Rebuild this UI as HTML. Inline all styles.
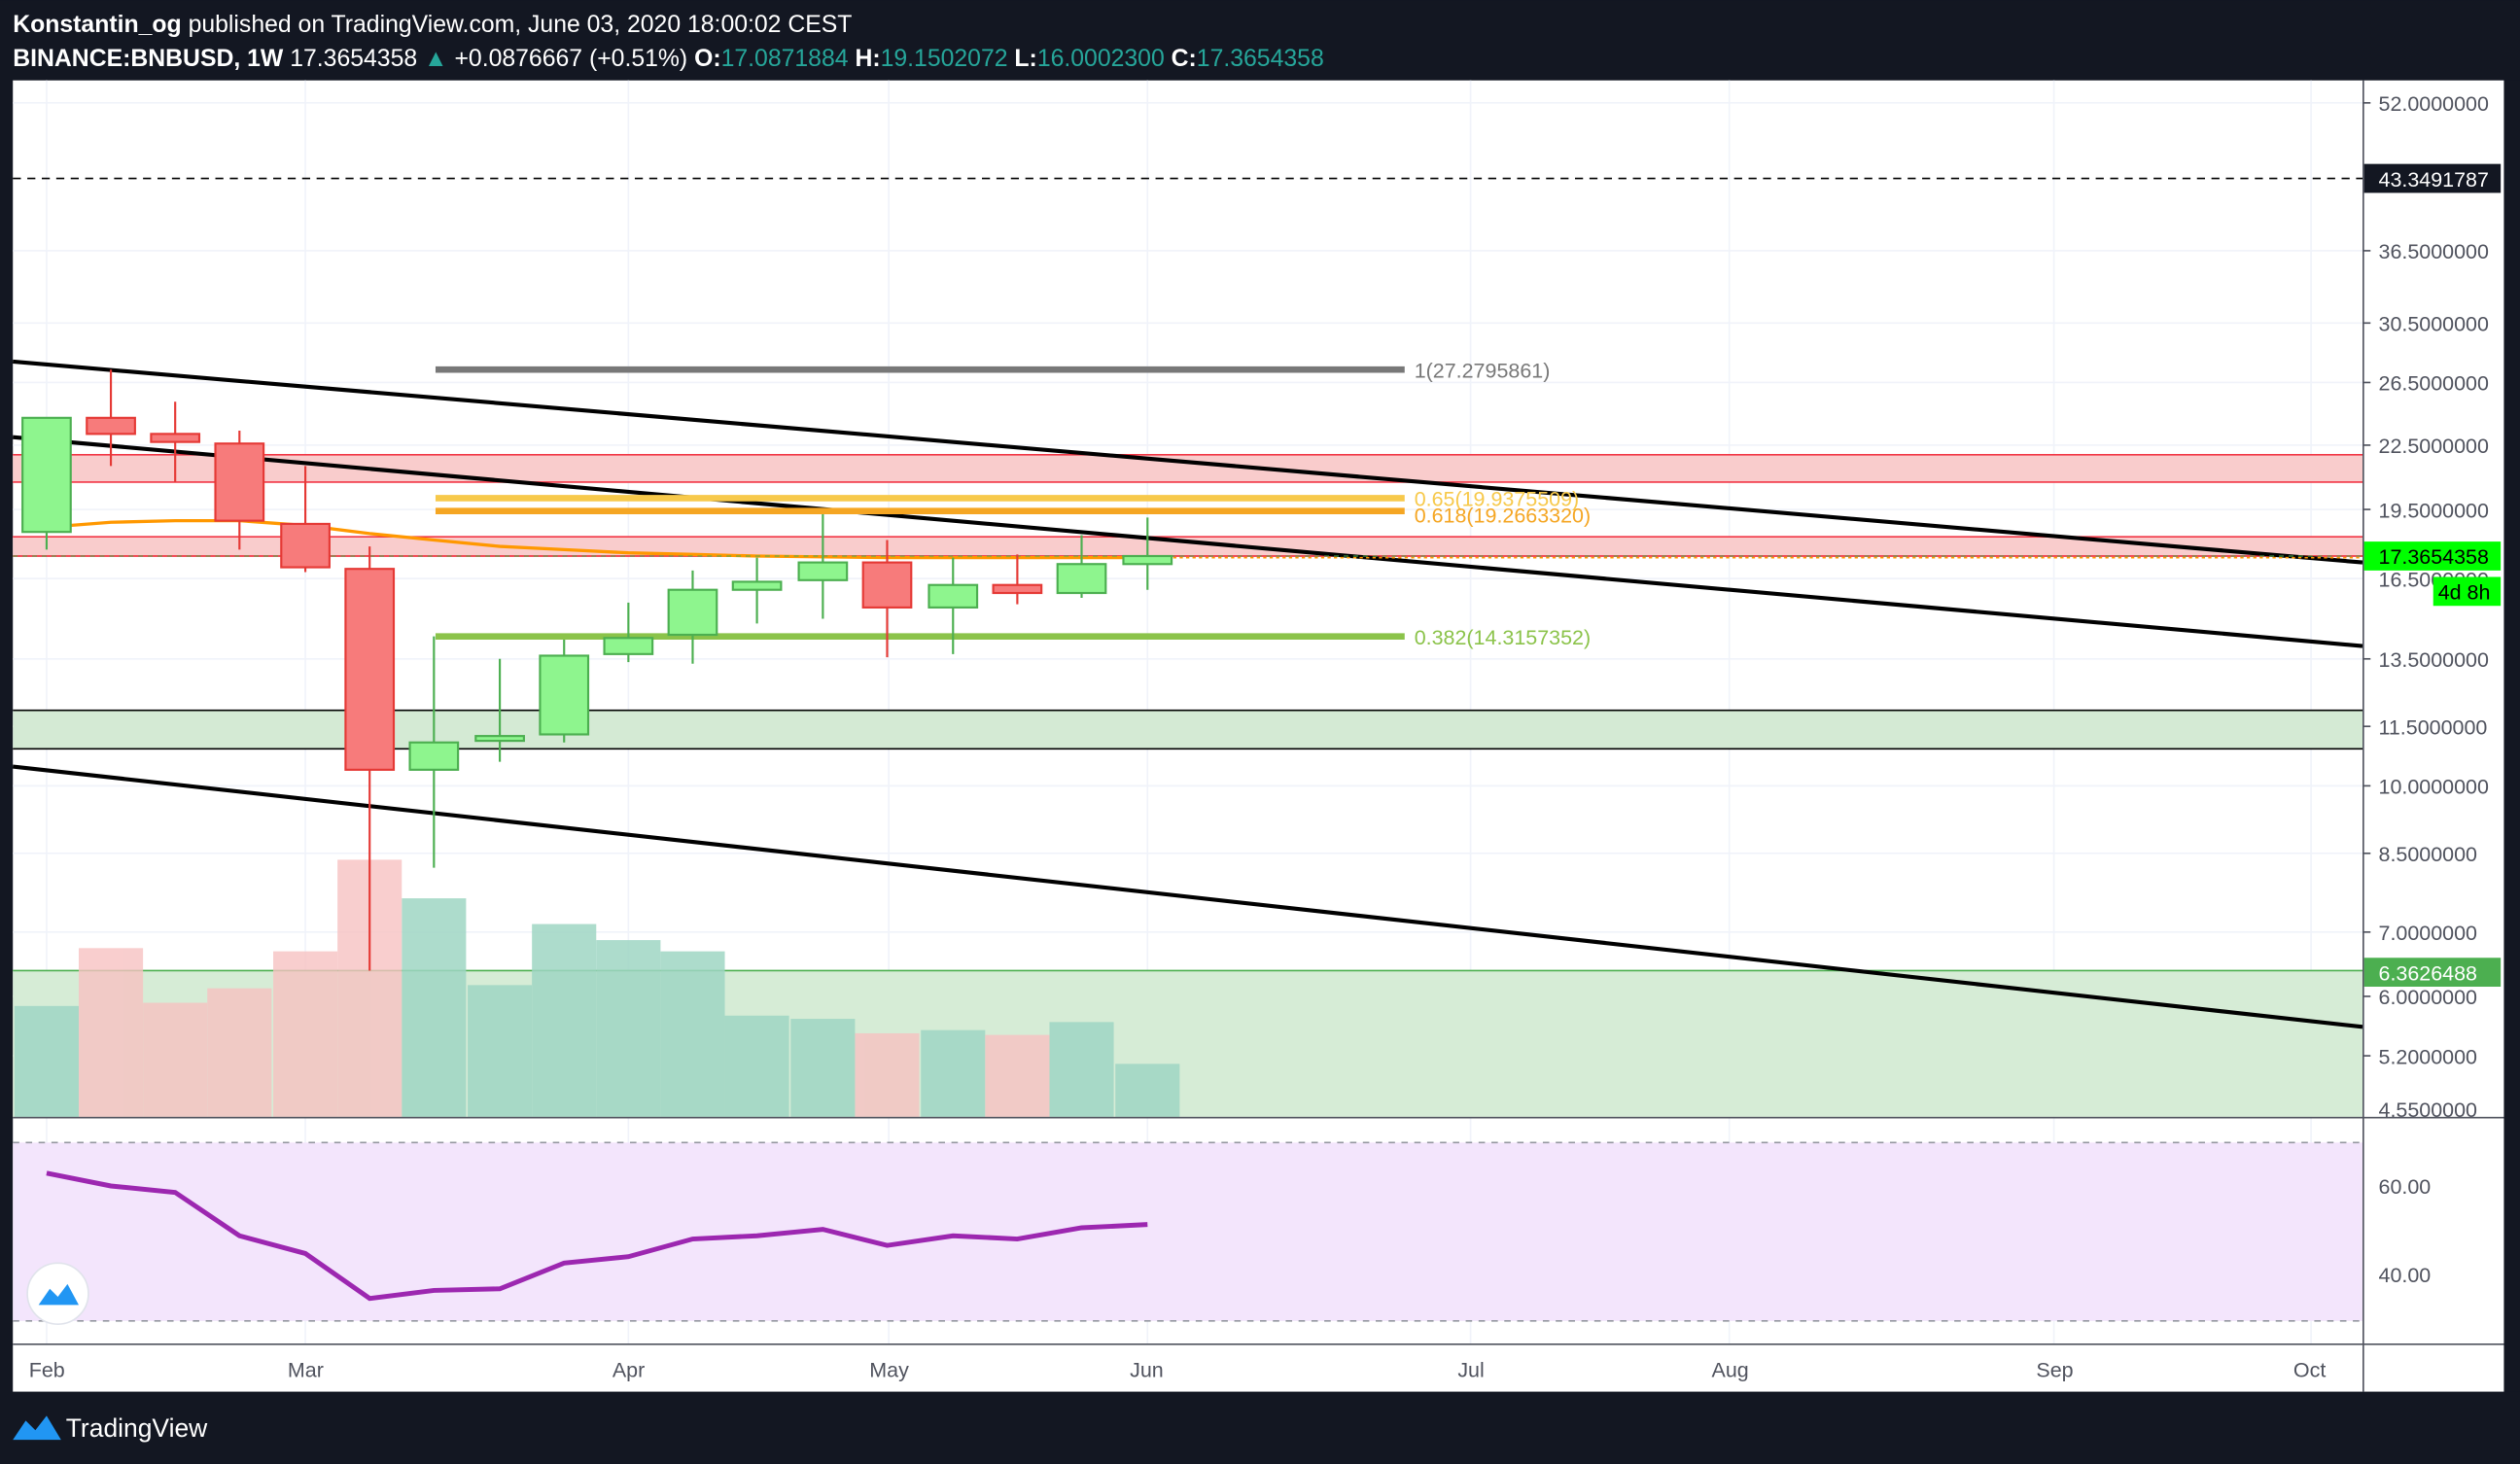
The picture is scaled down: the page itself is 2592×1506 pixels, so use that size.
<!DOCTYPE html>
<html><head><meta charset="utf-8"><style>
html,body{margin:0;padding:0;background:#131722;}
svg{display:block;}
text{font-family:"Liberation Sans",sans-serif;}
</style></head><body>
<svg width="2592" height="1506" viewBox="0 0 1568 911" xmlns="http://www.w3.org/2000/svg">
<rect x="0" y="0" width="1568" height="911" fill="#131722"/>
<!-- header -->
<text x="8" y="20" font-size="15" fill="#fff"><tspan font-weight="bold">Konstantin_og</tspan> published on TradingView.com, June 03, 2020 18:00:02 CEST</text>
<text x="8" y="41" font-size="15" fill="#fff"><tspan font-weight="bold">BINANCE:BNBUSD, 1W</tspan> 17.3654358 <tspan fill="#26a69a">▲</tspan> +0.0876667 (+0.51%) <tspan font-weight="bold">O:</tspan><tspan fill="#26a69a">17.0871884</tspan> <tspan font-weight="bold">H:</tspan><tspan fill="#26a69a">19.1502072</tspan> <tspan font-weight="bold">L:</tspan><tspan fill="#26a69a">16.0002300</tspan> <tspan font-weight="bold">C:</tspan><tspan fill="#26a69a">17.3654358</tspan></text>
<!-- chart background -->
<rect x="8" y="50" width="1550" height="816" fill="#fff"/>
<!-- grid -->
<g stroke="#f0f3fa" stroke-width="1">
<line x1="29" y1="50" x2="29" y2="836"/><line x1="190" y1="50" x2="190" y2="836"/><line x1="391" y1="50" x2="391" y2="836"/><line x1="553" y1="50" x2="553" y2="836"/><line x1="714" y1="50" x2="714" y2="836"/><line x1="915" y1="50" x2="915" y2="836"/><line x1="1076" y1="50" x2="1076" y2="836"/><line x1="1278" y1="50" x2="1278" y2="836"/><line x1="1438" y1="50" x2="1438" y2="836"/>
<line x1="8" y1="64" x2="1470" y2="64"/><line x1="8" y1="156" x2="1470" y2="156"/><line x1="8" y1="201" x2="1470" y2="201"/><line x1="8" y1="238" x2="1470" y2="238"/><line x1="8" y1="277" x2="1470" y2="277"/><line x1="8" y1="317" x2="1470" y2="317"/><line x1="8" y1="360" x2="1470" y2="360"/><line x1="8" y1="410" x2="1470" y2="410"/><line x1="8" y1="452" x2="1470" y2="452"/><line x1="8" y1="489" x2="1470" y2="489"/><line x1="8" y1="531" x2="1470" y2="531"/><line x1="8" y1="580" x2="1470" y2="580"/><line x1="8" y1="620" x2="1470" y2="620"/><line x1="8" y1="657" x2="1470" y2="657"/>
</g>
<!-- zones -->
<rect x="8" y="283" width="1462" height="17" fill="#f9cccc"/>
<line x1="8" y1="283" x2="1470" y2="283" stroke="#f23645" stroke-width="1"/><line x1="8" y1="300" x2="1470" y2="300" stroke="#f23645" stroke-width="1"/>
<rect x="8" y="334" width="1462" height="12" fill="#f9cccc"/>
<line x1="8" y1="334" x2="1470" y2="334" stroke="#f23645" stroke-width="1"/><line x1="8" y1="346" x2="1470" y2="346" stroke="#f23645" stroke-width="1"/>
<rect x="8" y="442" width="1462" height="24" fill="#d4ead4"/>
<line x1="8" y1="442" x2="1470" y2="442" stroke="#000" stroke-width="1"/><line x1="8" y1="466" x2="1470" y2="466" stroke="#000" stroke-width="1"/>
<rect x="8" y="604" width="1462" height="91" fill="#d6ecd6"/>
<line x1="8" y1="604" x2="1470" y2="604" stroke="#4caf50" stroke-width="1"/>
<line x1="8" y1="111" x2="1470" y2="111" stroke="#000" stroke-width="1" stroke-dasharray="5,4"/>
<!-- volume -->
<g fill="#9fd6c4" opacity="0.85">
<rect x="9" y="626" width="40" height="69"/><rect x="250" y="559" width="40" height="136"/><rect x="291" y="613" width="40" height="82"/><rect x="331" y="575" width="40" height="120"/><rect x="371" y="585" width="40" height="110"/><rect x="411" y="592" width="40" height="103"/><rect x="451" y="632" width="40" height="63"/><rect x="492" y="634" width="40" height="61"/><rect x="573" y="641" width="40" height="54"/><rect x="653" y="636" width="40" height="59"/><rect x="694" y="662" width="40" height="33"/>
</g>
<g fill="#f7c2c2" opacity="0.8">
<rect x="49" y="590" width="40" height="105"/><rect x="89" y="624" width="40" height="71"/><rect x="129" y="615" width="40" height="80"/><rect x="170" y="592" width="40" height="103"/><rect x="210" y="535" width="40" height="160"/><rect x="532" y="643" width="40" height="52"/><rect x="613" y="644" width="40" height="51"/>
</g>
<!-- trend lines -->
<g stroke="#000" stroke-width="2.5">
<line x1="8" y1="225" x2="1470" y2="350"/><line x1="8" y1="272" x2="1470" y2="402"/><line x1="8" y1="477" x2="1470" y2="639"/>
</g>
<!-- MA -->
<polyline fill="none" stroke="#ff9800" stroke-width="2" points="30,328 69,325 109,324 149,324 190,327 230,332 270,336 311,340 351,342 391,344 431,345 471,346 552,347 714,347"/>
<line x1="714" y1="347" x2="1470" y2="347" stroke="#ff9800" stroke-width="1" stroke-dasharray="2,2"/>
<line x1="8" y1="346" x2="1470" y2="346" stroke="#4caf50" stroke-width="1" stroke-dasharray="3,3" opacity="0.6"/>
<!-- fib -->
<line x1="271" y1="230" x2="874" y2="230" stroke="#787878" stroke-width="4"/>
<text x="880" y="235" font-size="13" fill="#787878">1(27.2795861)</text>
<line x1="271" y1="310" x2="874" y2="310" stroke="#f7c94b" stroke-width="4"/>
<text x="880" y="315" font-size="13" fill="#f7c94b">0.65(19.9375509)</text>
<line x1="271" y1="318" x2="874" y2="318" stroke="#f5a623" stroke-width="4"/>
<text x="880" y="325" font-size="13" fill="#f5a623">0.618(19.2663320)</text>
<line x1="271" y1="396" x2="874" y2="396" stroke="#8bc34a" stroke-width="4"/>
<text x="880" y="401" font-size="13" fill="#8bc34a">0.382(14.3157352)</text>
<!-- candles -->
<g stroke-width="1.3">
<g stroke="#4caf50" fill="#8ef58e">
<line x1="29" y1="260" x2="29" y2="342"/><rect x="14" y="260" width="30" height="71"/>
<line x1="270" y1="396" x2="270" y2="540"/><rect x="255" y="462" width="30" height="17"/>
<line x1="311" y1="410" x2="311" y2="474"/><rect x="296" y="458" width="30" height="3"/>
<line x1="351" y1="398" x2="351" y2="462"/><rect x="336" y="408" width="30" height="49"/>
<line x1="391" y1="375" x2="391" y2="412"/><rect x="376" y="397" width="30" height="10"/>
<line x1="431" y1="355" x2="431" y2="413"/><rect x="416" y="367" width="30" height="28"/>
<line x1="471" y1="347" x2="471" y2="388"/><rect x="456" y="362" width="30" height="5"/>
<line x1="512" y1="320" x2="512" y2="385"/><rect x="497" y="350" width="30" height="11"/>
<line x1="593" y1="347" x2="593" y2="407"/><rect x="578" y="364" width="30" height="14"/>
<line x1="673" y1="333" x2="673" y2="372"/><rect x="658" y="351" width="30" height="18"/>
<line x1="714" y1="322" x2="714" y2="367"/><rect x="699" y="346" width="30" height="5"/>
</g>
<g stroke="#e53935" fill="#f77b7b">
<line x1="69" y1="230" x2="69" y2="290"/><rect x="54" y="260" width="30" height="10"/>
<line x1="109" y1="250" x2="109" y2="300"/><rect x="94" y="270" width="30" height="5"/>
<line x1="149" y1="268" x2="149" y2="342"/><rect x="134" y="276" width="30" height="48"/>
<line x1="190" y1="290" x2="190" y2="356"/><rect x="175" y="326" width="30" height="27"/>
<line x1="230" y1="340" x2="230" y2="604"/><rect x="215" y="354" width="30" height="125"/>
<line x1="552" y1="336" x2="552" y2="409"/><rect x="537" y="350" width="30" height="28"/>
<line x1="633" y1="345" x2="633" y2="376"/><rect x="618" y="364" width="30" height="5"/>
</g>
</g>
<!-- pane separator -->
<line x1="8" y1="695.5" x2="1558" y2="695.5" stroke="#50535e" stroke-width="1"/>
<!-- RSI -->
<rect x="8" y="711" width="1462" height="111" fill="#f3e5fc"/>
<line x1="8" y1="711" x2="1470" y2="711" stroke="#9598a1" stroke-dasharray="4,4"/>
<line x1="8" y1="822" x2="1470" y2="822" stroke="#9598a1" stroke-dasharray="4,4"/>
<polyline fill="none" stroke="#9c27b0" stroke-width="3" points="29,730 69,738 109,742 149,769 190,780 230,808 270,803 311,802 351,786 391,782 431,771 471,769 512,765 552,775 593,769 633,771 673,764 714,762"/>
<circle cx="36" cy="805" r="19" fill="#fff" stroke="#e0e3eb"/>
<path d="M24,812 L31,802 L36,807 L42,799 L49,812 Z" fill="#2196f3"/>
<!-- axes -->
<line x1="1470.5" y1="50" x2="1470.5" y2="866" stroke="#50535e" stroke-width="1"/>
<line x1="8" y1="836.5" x2="1558" y2="836.5" stroke="#50535e" stroke-width="1"/>
<g font-size="13" fill="#50535e">
<text x="1480" y="69">52.0000000</text><text x="1480" y="161">36.5000000</text><text x="1480" y="206">30.5000000</text><text x="1480" y="243">26.5000000</text><text x="1480" y="282">22.5000000</text><text x="1480" y="322">19.5000000</text><text x="1480" y="365">16.5000000</text><text x="1480" y="415">13.5000000</text><text x="1480" y="457">11.5000000</text><text x="1480" y="494">10.0000000</text><text x="1480" y="536">8.5000000</text><text x="1480" y="585">7.0000000</text><text x="1480" y="625">6.0000000</text><text x="1480" y="662">5.2000000</text><text x="1480" y="695">4.5500000</text>
<text x="1480" y="743">60.00</text><text x="1480" y="798">40.00</text>
<text x="18" y="857">Feb</text><text x="179" y="857">Mar</text><text x="381" y="857">Apr</text><text x="541" y="857">May</text><text x="703" y="857">Jun</text><text x="907" y="857">Jul</text><text x="1065" y="857">Aug</text><text x="1267" y="857">Sep</text><text x="1427" y="857">Oct</text>
</g>
<g stroke="#50535e"><line x1="1470" y1="64" x2="1475" y2="64"/><line x1="1470" y1="156" x2="1475" y2="156"/><line x1="1470" y1="201" x2="1475" y2="201"/><line x1="1470" y1="238" x2="1475" y2="238"/><line x1="1470" y1="277" x2="1475" y2="277"/><line x1="1470" y1="317" x2="1475" y2="317"/><line x1="1470" y1="410" x2="1475" y2="410"/><line x1="1470" y1="452" x2="1475" y2="452"/><line x1="1470" y1="489" x2="1475" y2="489"/><line x1="1470" y1="531" x2="1475" y2="531"/><line x1="1470" y1="580" x2="1475" y2="580"/><line x1="1470" y1="620" x2="1475" y2="620"/><line x1="1470" y1="657" x2="1475" y2="657"/></g>
<rect x="1471" y="102" width="85" height="18" fill="#131722"/><text x="1480" y="116" font-size="13" fill="#fff">43.3491787</text>
<rect x="1471" y="337" width="85" height="18" fill="#00ff00"/><text x="1480" y="351" font-size="13" fill="#000">17.3654358</text>
<rect x="1514" y="359" width="42" height="18" fill="#00ff00"/><text x="1517" y="373" font-size="13" fill="#000">4d 8h</text>
<rect x="1471" y="596" width="85" height="18" fill="#4caf50"/><text x="1480" y="610" font-size="13" fill="#fff">6.3626488</text>
<rect x="1558" y="50" width="10" height="816" fill="#131722"/>
<!-- footer -->
<path d="M8,896 L16,884 L22,890 L29,881 L38,896 Z" fill="#2196f3"/>
<text x="41" y="894" font-size="16" fill="#fff">TradingView</text>
</svg>
</body></html>
